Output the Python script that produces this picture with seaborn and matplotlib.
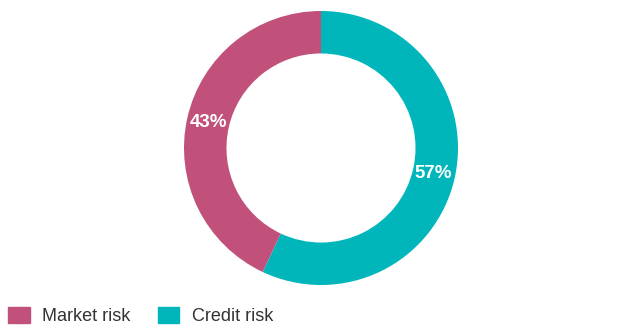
import matplotlib
matplotlib.use("Agg")
import matplotlib.pyplot as plt
import matplotlib.patches as mpatches
import seaborn as sns

labels = ["Credit risk", "Market risk"]
shares = [57, 43]
colors = ["#00B6BA", "#C1507A"]

legend_order = ["Market risk", "Credit risk"]

sns.set_theme(style="white")
plt.rcParams["font.family"] = ["Liberation Sans", "DejaVu Sans"]

fig = plt.figure(figsize=(6.18, 3.26), dpi=100)
# donut centred at (321, 148) px with outer radius ~137 px
ax = fig.add_axes([(321 - 137) / 618, (178 - 137) / 326, 274 / 618, 274 / 326])

wedges, texts, autotexts = ax.pie(
    shares,
    colors=colors,
    startangle=90,
    counterclock=False,
    radius=1.0,
    autopct=lambda p: f"{p:.0f}%",
    pctdistance=0.84,
    wedgeprops=dict(width=0.31, linewidth=0),
    textprops=dict(color="white", fontsize=13.5, fontweight="bold"),
)
ax.set_xlim(-1, 1)
ax.set_ylim(-1, 1)
ax.set_aspect("equal")
ax.axis("off")

handles = [mpatches.Patch(color=colors[labels.index(n)], label=n) for n in legend_order]
fig.legend(
    handles=handles,
    loc="lower left",
    bbox_to_anchor=(7 / 618, 0.0),
    ncol=2,
    frameon=False,
    fontsize=13,
    handlelength=1.2,
    handleheight=1.0,
    handletextpad=0.7,
    columnspacing=1.5,
    borderpad=0.05,
    borderaxespad=0,
    labelcolor="#333333",
)

fig.savefig("out.png", dpi=100)
